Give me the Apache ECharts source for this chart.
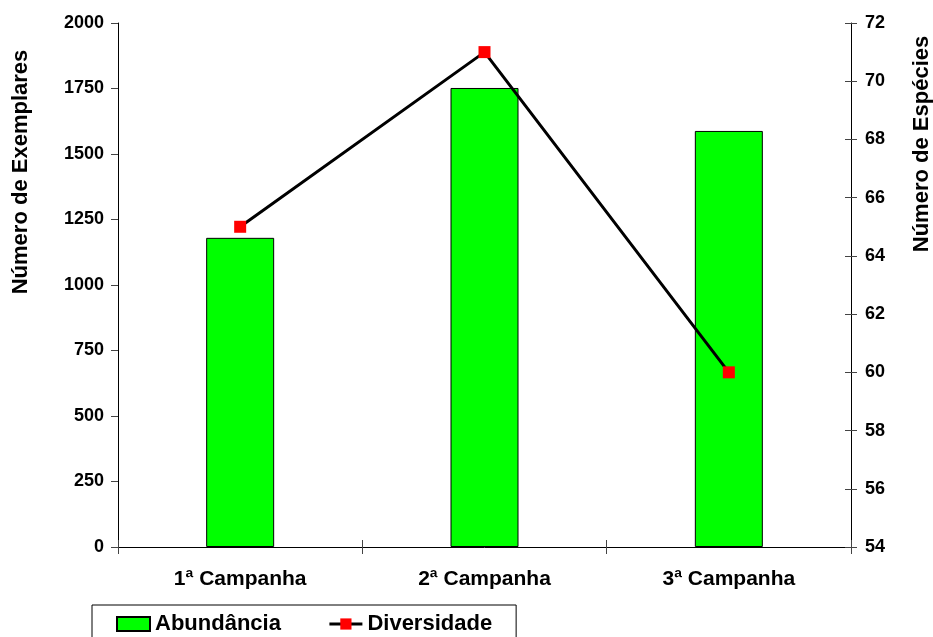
<!DOCTYPE html>
<html>
<head>
<meta charset="utf-8">
<script src="https://cdn.jsdelivr.net/npm/echarts@6/dist/echarts.min.js"></script>
<style>
  html, body { margin: 0; padding: 0; background: #fff; }
  #chart { width: 933px; height: 637px; }
</style>
</head>
<body>
<div id="chart"></div>
<script>
// Campaign categories and measured values
const campanhas = ['1ª Campanha', '2ª Campanha', '3ª Campanha'];
const abundancia = [1180, 1752, 1588];   // number of specimens
const diversidade = [65, 71, 60];        // number of species

const FONT = 'Liberation Sans, Arial, sans-serif';
const plain = v => String(v);
const tickStyle = { color: '#444', width: 1 };

const chart = echarts.init(document.getElementById('chart'), null, { renderer: 'canvas' });

chart.setOption({
  animation: false,
  backgroundColor: '#fff',
  textStyle: { fontFamily: FONT },
  grid: { left: 118, right: 82, top: 23, bottom: 90, containLabel: false },
  legend: {
    left: 92,
    top: 605,
    itemGap: 47,
    itemWidth: 33,
    itemHeight: 14,
    padding: [8, 24, 20, 24],
    borderColor: '#000',
    borderWidth: 1,
    borderRadius: 0,
    textStyle: { fontFamily: FONT, fontWeight: 'bold', fontSize: 22, color: '#000' },
    data: [
      { name: 'Abundância', icon: 'rect' },
      { name: 'Diversidade', lineStyle: { width: 3, color: '#000' } }
    ]
  },
  xAxis: [
    {
      type: 'category',
      data: campanhas,
      boundaryGap: true,
      axisLine: { lineStyle: { color: '#000', width: 1 } },
      axisTick: { show: true, length: 7, lineStyle: tickStyle },
      axisLabel: { margin: 22, fontFamily: FONT, fontWeight: 'bold', fontSize: 21, color: '#000' },
      splitLine: { show: false }
    },
    {
      // inner half of the crossing category ticks
      type: 'category',
      data: campanhas,
      position: 'bottom',
      boundaryGap: true,
      axisLine: { show: false },
      axisTick: { show: true, inside: true, length: 7, lineStyle: tickStyle },
      axisLabel: { show: false },
      splitLine: { show: false }
    }
  ],
  yAxis: [
    {
      type: 'value',
      min: 0, max: 2000, interval: 250,
      axisLine: { show: true, lineStyle: { color: '#000', width: 1 } },
      axisTick: { show: true, length: 7, lineStyle: tickStyle },
      axisLabel: { margin: 14, formatter: plain, fontFamily: FONT, fontWeight: 'bold', fontSize: 18, color: '#000' },
      splitLine: { show: false }
    },
    {
      type: 'value',
      min: 54, max: 72, interval: 2,
      position: 'right',
      axisLine: { show: true, lineStyle: { color: '#000', width: 1 } },
      axisTick: { show: true, length: 6, lineStyle: tickStyle },
      axisLabel: { margin: 14, formatter: plain, fontFamily: FONT, fontWeight: 'bold', fontSize: 18, color: '#000' },
      splitLine: { show: false }
    },
    {
      // inner half of the crossing species-axis ticks
      type: 'value',
      min: 54, max: 72, interval: 2,
      position: 'right',
      axisLine: { show: false },
      axisTick: { show: true, inside: true, length: 6, lineStyle: tickStyle },
      axisLabel: { show: false },
      splitLine: { show: false }
    }
  ],
  graphic: [
    {
      type: 'text', x: 21, y: 172, rotation: Math.PI / 2,
      style: { text: 'Número de Exemplares', fontFamily: FONT, fontWeight: 'bold', fontSize: 22,
               fill: '#000', align: 'center', verticalAlign: 'middle' }
    },
    {
      type: 'text', x: 922, y: 144, rotation: Math.PI / 2,
      style: { text: 'Número de Espécies', fontFamily: FONT, fontWeight: 'bold', fontSize: 22,
               fill: '#000', align: 'center', verticalAlign: 'middle' }
    }
  ],
  series: [
    {
      name: 'Abundância',
      type: 'bar',
      xAxisIndex: 0,
      yAxisIndex: 0,
      data: abundancia,
      barWidth: 68,
      itemStyle: { color: '#00ff00', borderColor: '#000', borderWidth: 1 }
    },
    {
      name: 'Diversidade',
      type: 'line',
      xAxisIndex: 0,
      yAxisIndex: 1,
      data: diversidade,
      symbol: 'rect',
      symbolSize: 12,
      lineStyle: { color: '#000', width: 3 },
      itemStyle: { color: '#ff0000', borderWidth: 0 },
      z: 5
    }
  ]
});
</script>
</body>
</html>
